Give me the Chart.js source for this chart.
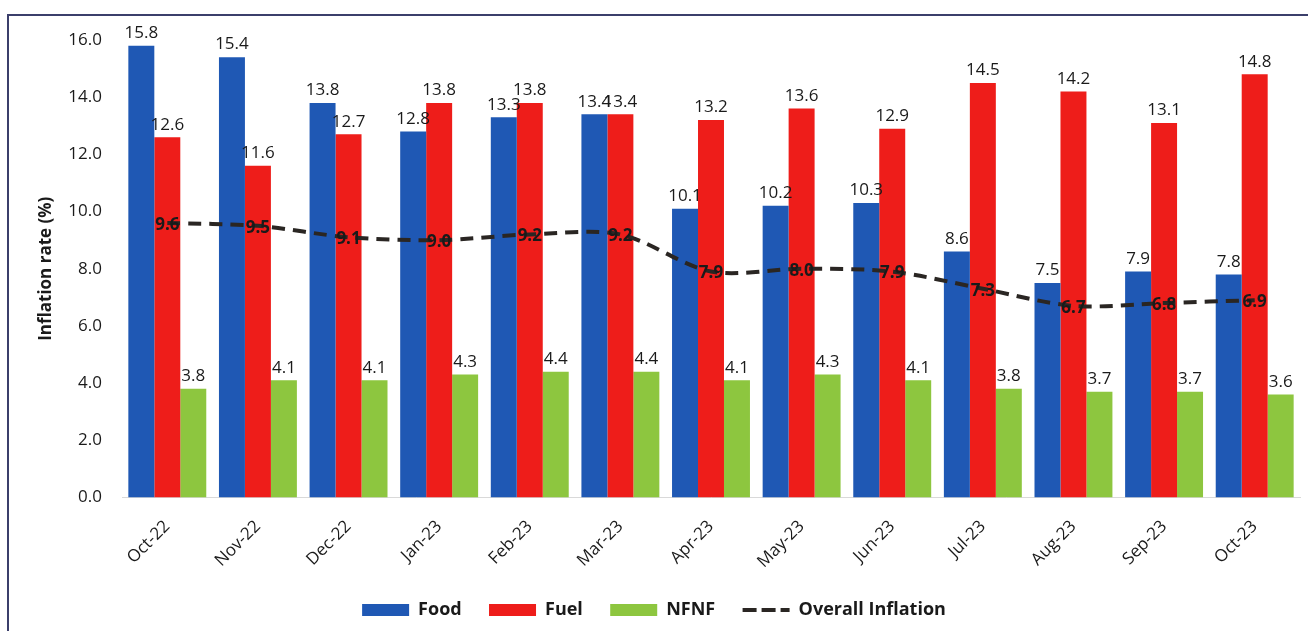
<!DOCTYPE html>
<html>
<head>
<meta charset="utf-8">
<script src="https://cdn.jsdelivr.net/npm/chart.js@4.4.0/dist/chart.umd.min.js"></script>
<style>
  html, body { margin: 0; padding: 0; background: #fff; }
  #wrap { width: 1308px; height: 631px; position: relative; }
</style>
</head>
<body>
<div id="wrap"><canvas id="myChart" width="1308" height="631"></canvas></div>
<script>
var months = ["Oct-22", "Nov-22", "Dec-22", "Jan-23", "Feb-23", "Mar-23", "Apr-23", "May-23", "Jun-23", "Jul-23", "Aug-23", "Sep-23", "Oct-23"];
var food = [15.8, 15.4, 13.8, 12.8, 13.3, 13.4, 10.1, 10.2, 10.3, 8.6, 7.5, 7.9, 7.8];
var fuel = [12.6, 11.6, 12.7, 13.8, 13.8, 13.4, 13.2, 13.6, 12.9, 14.5, 14.2, 13.1, 14.8];
var nfnf = [3.8, 4.1, 4.1, 4.3, 4.4, 4.4, 4.1, 4.3, 4.1, 3.8, 3.7, 3.7, 3.6];
var overall = [9.6, 9.5, 9.1, 9.0, 9.2, 9.2, 7.9, 8.0, 7.9, 7.3, 6.7, 6.8, 6.9];
var yTicks = [0, 2, 4, 6, 8, 10, 12, 14, 16];

var fontName = "'Open Sans', 'Noto Sans', sans-serif";

// value labels: above bars, centred on line points
var labelPlugin = {
    id: 'valueLabels',
    afterDatasetsDraw: function (chart) {
        var ctx = chart.ctx;
        ctx.save();
        ctx.textAlign = 'center';
        chart.data.datasets.forEach(function (ds, i) {
            var meta = chart.getDatasetMeta(i);
            meta.data.forEach(function (el, j) {
                var txt = ds.data[j].toFixed(1);
                if (ds.type === 'line') {
                    ctx.font = "bold 17px " + fontName;
                    ctx.fillStyle = '#1a1a1a';
                    ctx.textBaseline = 'middle';
                    ctx.fillText(txt, el.x, el.y + 2);
                } else {
                    ctx.font = "17px " + fontName;
                    ctx.fillStyle = '#1a1a1a';
                    ctx.textBaseline = 'bottom';
                    ctx.fillText(txt, el.x, el.y - 4);
                }
            });
        });
        ctx.restore();
    }
};

// frame lines at top and left of the picture
var framePlugin = {
    id: 'frame',
    beforeDraw: function (chart) {
        var ctx = chart.ctx;
        ctx.save();
        ctx.strokeStyle = '#3b3f6b';
        ctx.lineWidth = 2;
        ctx.beginPath();
        ctx.moveTo(8, chart.height);
        ctx.lineTo(8, 15);
        ctx.lineTo(chart.width, 15);
        ctx.stroke();
        ctx.restore();
    }
};

var ctx = document.getElementById("myChart").getContext('2d');

var myChart = new Chart(ctx, {
    type: 'bar',
    data: {
        labels: months,
        datasets: [
            {
                label: "Food",
                data: food,
                backgroundColor: "#1f58b4",
                pointStyle: 'rect',
                order: 1
            },
            {
                label: "Fuel",
                data: fuel,
                backgroundColor: "#ee1d1a",
                pointStyle: 'rect',
                order: 1
            },
            {
                label: "NFNF",
                data: nfnf,
                backgroundColor: "#8dc63f",
                pointStyle: 'rect',
                order: 1
            },
            {
                type: 'line',
                label: "Overall Inflation",
                data: overall,
                borderColor: "#2a2623",
                backgroundColor: "#2a2623",
                borderWidth: 4,
                borderDash: [13, 8],
                pointRadius: 0,
                pointStyle: 'line',
                tension: 0.3,
                fill: false,
                order: 0
            }
        ]
    },
    options: {
        responsive: false,
        animation: false,
        layout: { padding: { left: 8, top: 40, right: 8, bottom: 2 } },
        datasets: {
            bar: { categoryPercentage: 0.86, barPercentage: 1.0 }
        },
        scales: {
            x: {
                grid: { display: false },
                border: { display: true, color: '#d9d9d9', width: 1 },
                ticks: {
                    color: '#1a1a1a',
                    font: { family: fontName, size: 17 },
                    maxRotation: 45,
                    minRotation: 45,
                    padding: 11
                }
            },
            y: {
                min: 0,
                max: 16,
                grid: { display: false },
                border: { display: false },
                afterBuildTicks: function (scale) {
                    scale.ticks = yTicks.map(function (v) { return { value: v }; });
                },
                afterFit: function (scale) { scale.width = 114; },
                ticks: {
                    color: '#1a1a1a',
                    font: { family: fontName, size: 17 },
                    padding: 12,
                    callback: function (v) { return Number(v).toFixed(1); }
                },
                title: {
                    display: true,
                    text: "Inflation rate (%)",
                    color: '#1a1a1a',
                    font: { family: fontName, size: 17, weight: 'bold' },
                    padding: { top: 28, bottom: 4 }
                }
            }
        },
        plugins: {
            tooltip: { enabled: false },
            legend: {
                position: 'bottom',
                labels: {
                    usePointStyle: true,
                    pointStyleWidth: 47,
                    boxHeight: 12,
                    padding: 18,
                    color: '#1a1a1a',
                    font: { family: fontName, size: 18, weight: 'bold' },
                    generateLabels: function (chart) {
                        var items = Chart.defaults.plugins.legend.labels.generateLabels(chart);
                        items.forEach(function (it) {
                            var ds = chart.data.datasets[it.datasetIndex];
                            if (ds.type === 'line') {
                                it.lineDash = [14, 5];
                                it.lineWidth = 4;
                                it.strokeStyle = ds.borderColor;
                            } else {
                                it.text = it.text + '  ';   // a bit more gap before next item
                            }
                        });
                        return items;
                    },
                    sort: function (a, b) { return a.datasetIndex - b.datasetIndex; }
                }
            }
        }
    },
    plugins: [labelPlugin, framePlugin]
});
</script>
</body>
</html>
